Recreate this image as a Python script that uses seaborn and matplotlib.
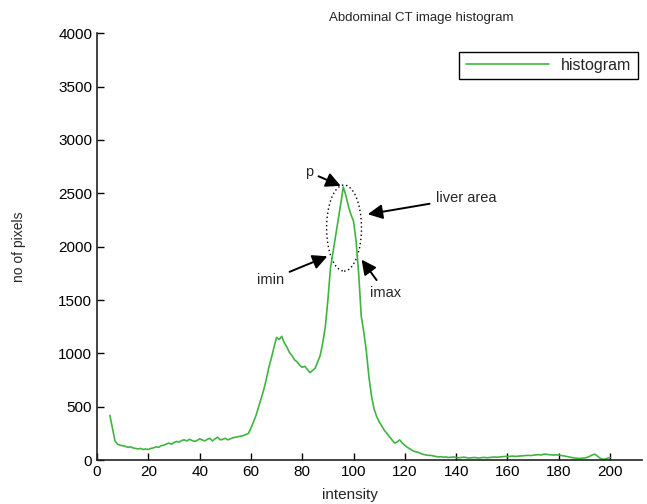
import seaborn as sns
import pandas as pd
import matplotlib.pyplot as plt
from matplotlib.patches import Ellipse

# intensidades 5..200
intensidade = list(range(5, 201))

# contagem de pixels
pixels = [
    420, 300, 180, 150, 140, 135, 130, 120, 125, 115,   # 5-14
    110, 105, 110, 100, 105, 100, 110, 115, 125, 120,   # 15-24
    135, 140, 150, 160, 150, 165, 175, 170, 185, 190,   # 25-34
    180, 195, 185, 175, 185, 200, 190, 180, 195, 205,   # 35-44
    180, 200, 215, 190, 195, 205, 190, 200, 210, 215,   # 45-54
    220, 225, 230, 240, 250, 300, 360, 420, 500, 580,   # 55-64
    660, 760, 870, 960, 1060, 1150, 1130, 1160, 1100, 1060,  # 65-74
    1010, 980, 940, 920, 890, 870, 880, 850, 820, 840,  # 75-84
    860, 920, 980, 1100, 1250, 1500, 1800, 1950, 2100, 2250,  # 85-94
    2400, 2560, 2480, 2380, 2300, 2240, 2050, 1750, 1350, 1200,  # 95-104
    1020, 780, 600, 480, 410, 360, 320, 280, 250, 220,  # 105-114
    190, 160, 170, 190, 160, 140, 120, 105, 90, 80,     # 115-124
    75, 65, 55, 50, 45, 45, 40, 35, 30, 32,             # 125-134
    28, 30, 25, 28, 30, 25, 22, 25, 28, 24,             # 135-144
    20, 22, 25, 22, 20, 24, 26, 22, 25, 28,             # 145-154
    30, 27, 30, 32, 35, 33, 36, 38, 35, 37,             # 155-164
    38, 40, 42, 45, 43, 46, 50, 52, 48, 55,             # 165-174
    56, 52, 50, 48, 50, 47, 45, 40, 35, 30,             # 175-184
    25, 20, 18, 16, 18, 20, 25, 35, 48, 56,             # 185-194
    40, 20, 8, 10, 18, 25,                              # 195-200
]

df = pd.DataFrame({'intensity': intensidade, 'pixels': pixels})

sns.set_style('ticks')
plt.rcParams['font.family'] = ['Liberation Sans', 'DejaVu Sans']
plt.rcParams['xtick.direction'] = 'in'
plt.rcParams['ytick.direction'] = 'in'

fig = plt.figure(figsize=(6.47, 5.04), dpi=100)
ax = fig.add_axes([0.150, 0.087, 0.842, 0.847])

sns.lineplot(data=df, x='intensity', y='pixels', color='#3fb53f', lw=1.2,
             label='histogram', ax=ax)

ax.set_xlim(0, 212.4)
ax.set_ylim(0, 4000)
ax.set_xticks(range(0, 201, 20))
ax.set_yticks(range(0, 4001, 500))
ax.tick_params(labelsize=11, length=5, width=1, colors='black')
for s in ['top', 'right']:
    ax.spines[s].set_visible(False)
for s in ['left', 'bottom']:
    ax.spines[s].set_linewidth(1.2)
    ax.spines[s].set_color('#222222')

ax.set_xlabel('intensity', fontsize=11)
ax.set_ylabel('no of pixels', fontsize=10)
ax.xaxis.set_label_coords(0.464, -0.065)
ax.yaxis.set_label_coords(-0.13, 0.5)
fig.text(0.651, 0.965, 'Abdominal CT image histogram', ha='center', va='center', fontsize=9.5)

leg = ax.legend(loc='upper right', bbox_to_anchor=(0.993, 0.957), fancybox=False,
                edgecolor='black', framealpha=1, fontsize=11.5, handlelength=5.2,
                borderpad=0.4, borderaxespad=0)
leg.get_frame().set_linewidth(1.0)

# elipse pontilhada da area do figado
ax.add_patch(Ellipse((96.3, 2175), 13.6, 806, fill=False, ls=(0, (1, 2)),
                     lw=1.0, color='black'))

seta = dict(arrowstyle='-|>', color='black', lw=1.4, mutation_scale=22)
ax.annotate('p', xy=(96, 2560), xytext=(82.5, 2700), fontsize=10.5,
            ha='center', va='center', arrowprops=seta)
ax.annotate('liver area', xy=(104.5, 2300), xytext=(132, 2460), fontsize=10.5,
            ha='left', va='center', arrowprops=seta)
ax.annotate('imin', xy=(90.8, 1920), xytext=(67.5, 1690), fontsize=10.5,
            ha='center', va='center', arrowprops=seta)
ax.annotate('imax', xy=(102.5, 1900), xytext=(106.5, 1570), fontsize=10.5,
            ha='left', va='center', arrowprops=seta)

plt.savefig('out.png', dpi=100)
